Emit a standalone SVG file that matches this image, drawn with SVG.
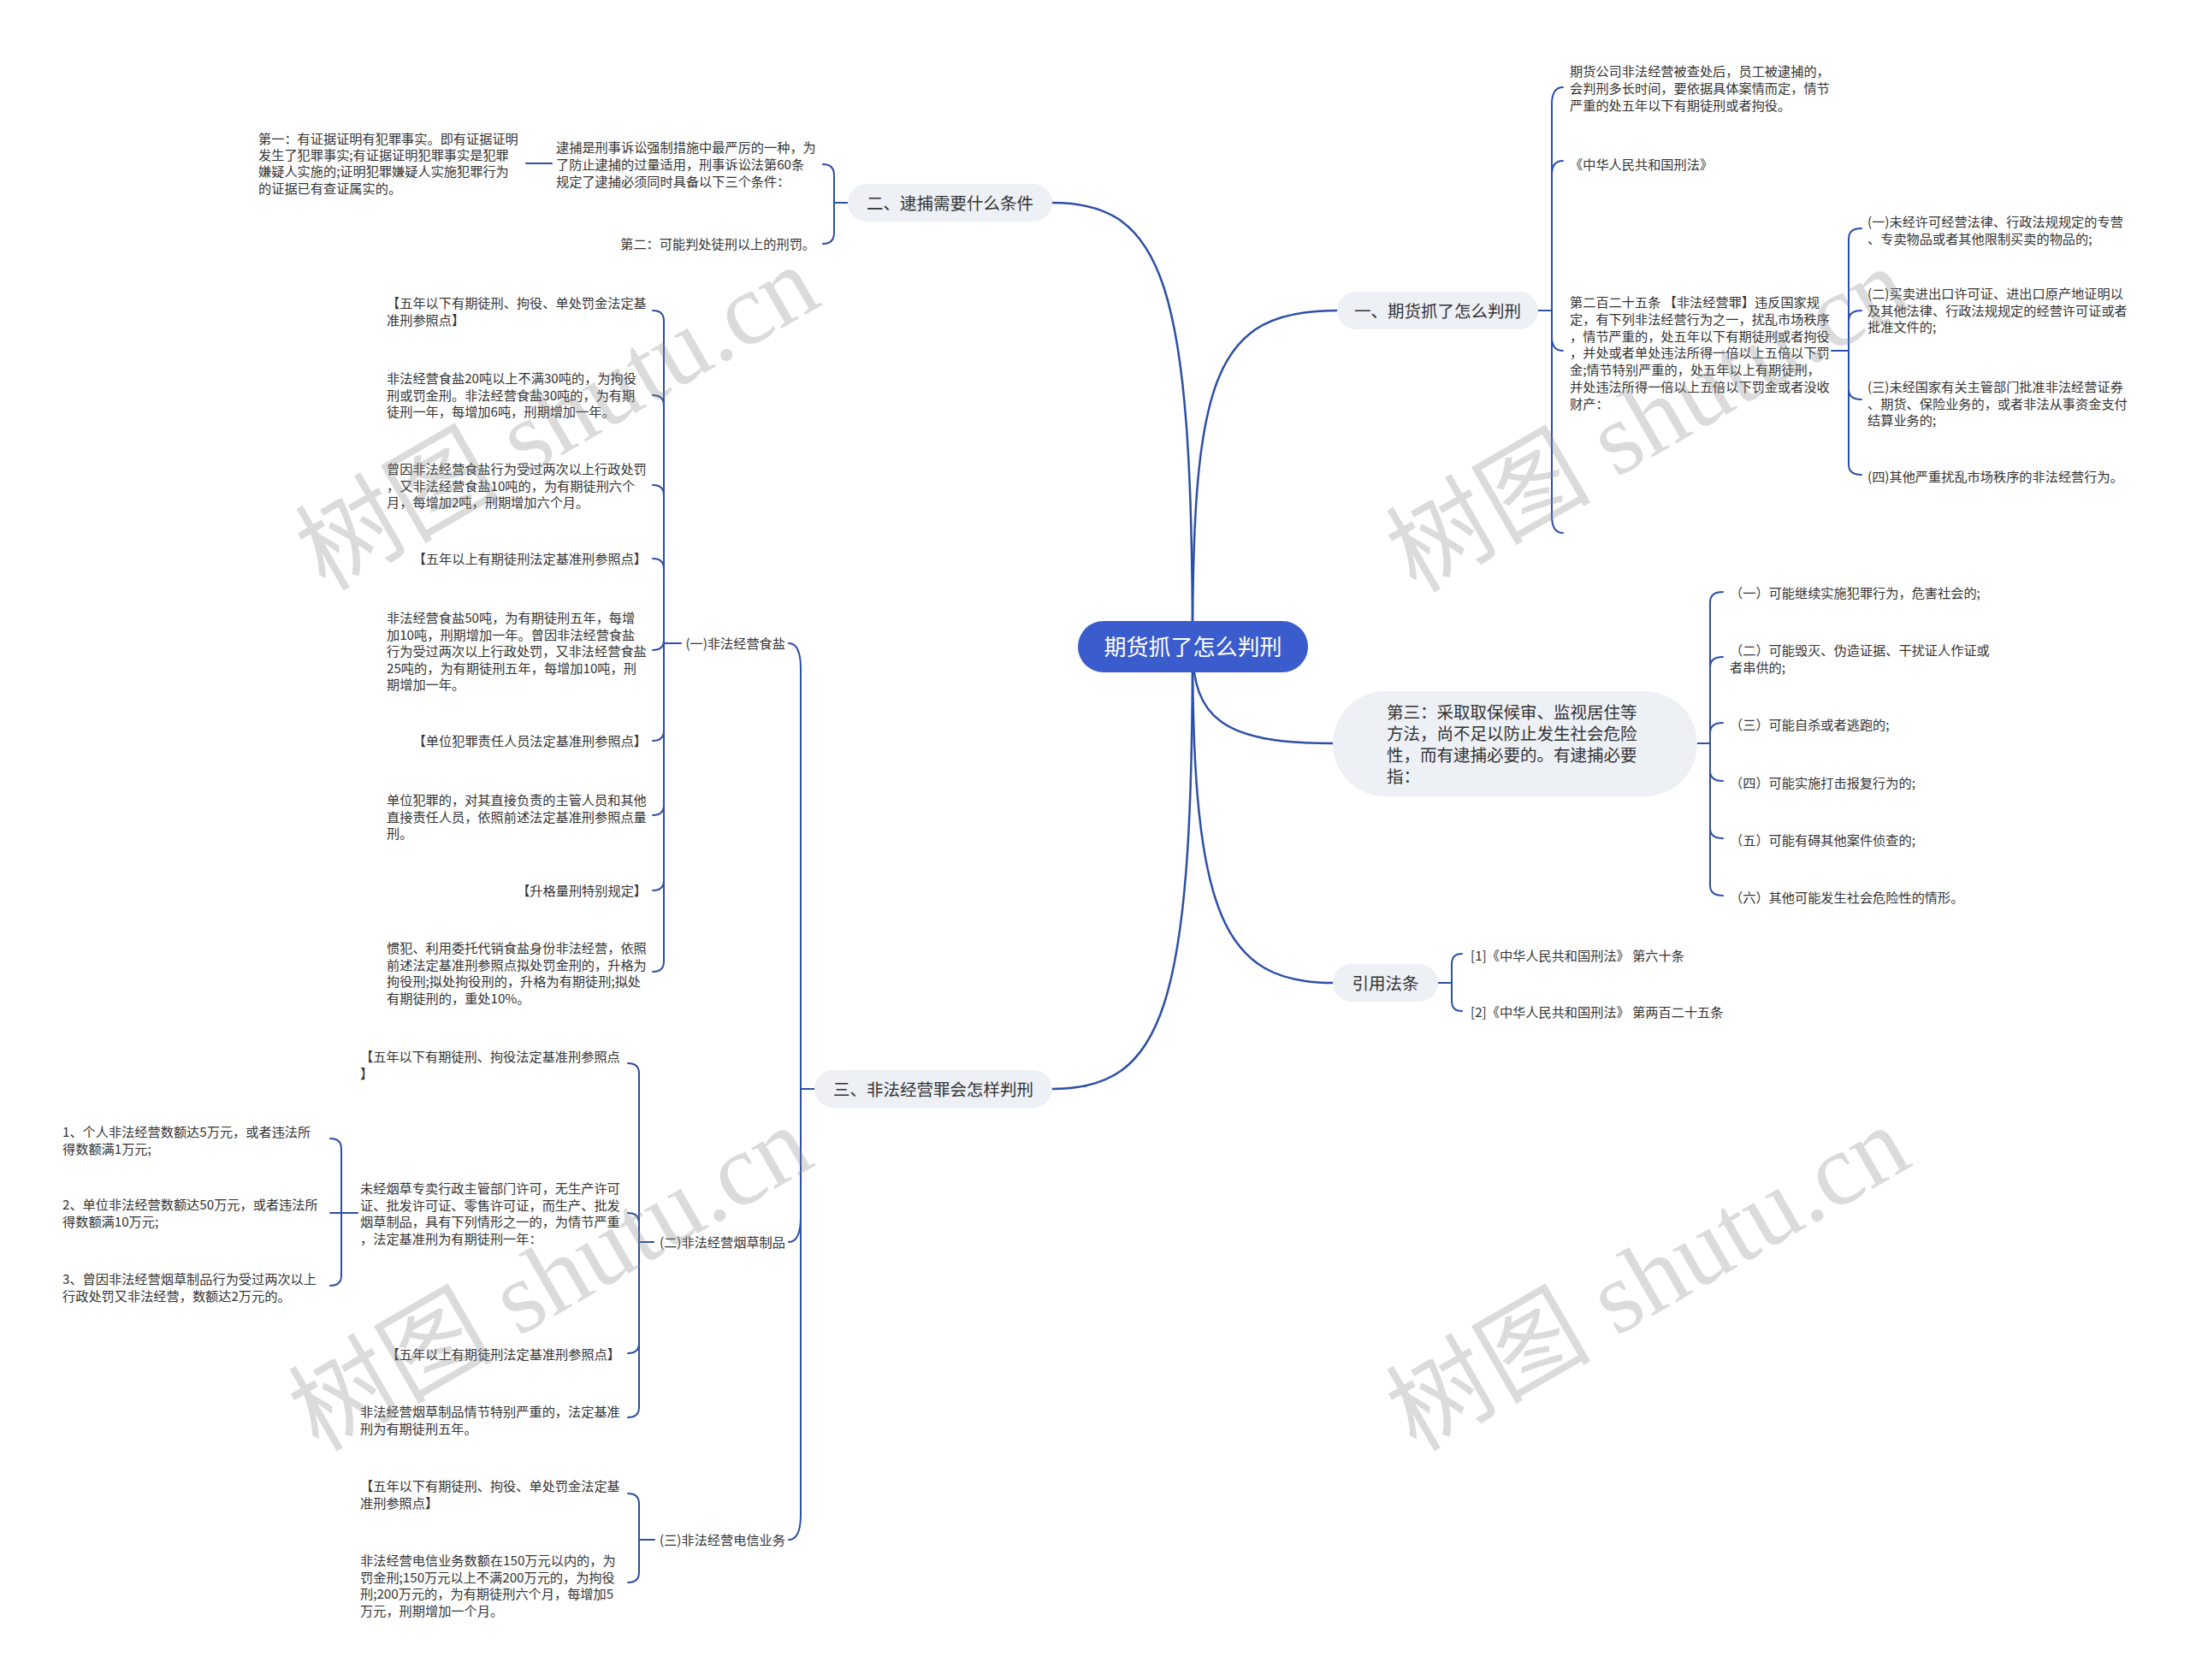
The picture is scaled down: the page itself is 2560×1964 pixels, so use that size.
<svg xmlns="http://www.w3.org/2000/svg" width="2560" height="1964" viewBox="0 0 2560 1964">
<style>
.t{font-family:"Noto Sans CJK SC","Liberation Sans",sans-serif;font-size:15.2px;fill:#333}
.e{text-anchor:end}
.l1{font-family:"Noto Sans CJK SC","Liberation Sans",sans-serif;font-size:19.5px;fill:#333;text-anchor:middle}
.rt{font-family:"Noto Sans CJK SC","Liberation Sans",sans-serif;font-size:26px;fill:#fff;text-anchor:middle}
.n1{fill:#edf0f5}
.ln{fill:none;stroke:#2d4fa6;stroke-width:2;stroke-linecap:round}
.mn{fill:none;stroke:#2d4fa6;stroke-width:2.5;stroke-linecap:round}
.wm{font-family:"Liberation Serif","Noto Sans CJK SC",serif;font-size:120px;fill:#888;fill-opacity:0.3}
</style>
<rect width="2560" height="1964" fill="#fff"/>

<g id="connectors">
<path class="mn" d="M1394 756 C1394 440 1420 363 1563 363"/>
<path class="mn" d="M1394 756 C1394 840 1430 869 1558 869"/>
<path class="mn" d="M1394 756 C1394 1070 1430 1149 1558 1149"/>
<path class="mn" d="M1394 756 C1394 330 1360 237 1230 237"/>
<path class="mn" d="M1394 756 C1394 1180 1360 1273 1230 1273"/>
<path class="ln" d="M991 237 H975 M975 205 V272 M975 205 Q975 192 962 192 M975 272 Q975 285 962 285 M645 191 H615"/>
<path class="ln" d="M952 1273 H936 M936 782 V1770 M936 782 Q936 752 922 752 M936 1422 Q936 1452 922 1452 M936 1770 Q936 1800 922 1800"/>
<path class="ln" d="M796 752 H776 M776 375 V1124 M776 375 Q776 363 763 363 M776 474 Q776 462 763 462 M776 579 Q776 567 763 567 M776 665 Q776 653 763 653 M776 748 Q776 760 763 760 M776 854 Q776 866 763 866 M776 941 Q776 953 763 953 M776 1029 Q776 1041 763 1041 M776 1124 Q776 1136 763 1136"/>
<path class="ln" d="M764 1452 H747 M747 1255 V1645 M747 1255 Q747 1243 734 1243 M747 1430 Q747 1418 734 1418 M747 1570 Q747 1582 734 1582 M747 1645 Q747 1657 734 1657"/>
<path class="ln" d="M418 1418 H386 M399 1343 V1491 M399 1343 Q399 1331 386 1331 M399 1491 Q399 1503 386 1503"/>
<path class="ln" d="M765 1800 H747 M747 1758 V1838 M747 1758 Q747 1746 734 1746 M747 1838 Q747 1850 734 1850"/>
<path class="ln" d="M1798 363 H1814 M1814 122 V603 M1814 122 Q1814 102 1827 102 M1814 204 Q1814 188 1827 188 M1814 394 Q1814 410 1827 410 M1814 603 Q1814 623 1827 623"/>
<path class="ln" d="M2141 410 H2161 M2161 279 V543 M2161 279 Q2161 267 2176 267 M2161 375 Q2161 363 2176 363 M2161 455 Q2161 467 2176 467 M2161 543 Q2161 555 2176 555"/>
<path class="ln" d="M1984 869 H1999 M1999 704 V1035 M1999 704 Q1999 692 2014 692 M1999 780 Q1999 768 2014 768 M1999 857 Q1999 845 2014 845 M1999 901 Q1999 913 2014 913 M1999 968 Q1999 980 2014 980 M1999 1035 Q1999 1047 2014 1047"/>
<path class="ln" d="M1681 1149 H1697 M1697 1127 V1170 M1697 1127 Q1697 1115 1709 1115 M1697 1170 Q1697 1182 1709 1182"/>
</g>

<g id="n-root">
<rect x="1260" y="726" width="269" height="60" rx="30" fill="#3b5ccc"/>
<text class="rt" x="1394.5" y="766">期货抓了怎么判刑</text>
</g>

<g id="n-2">
<rect class="n1" x="991" y="215" width="239" height="44" rx="22"/>
<text class="l1" x="1110.5" y="244.5">二、逮捕需要什么条件</text>
</g>
<g id="n-2-1"><text class="t" x="650" y="178"><tspan x="650">逮捕是刑事诉讼强制措施中最严厉的一种，为</tspan><tspan x="650" dy="19.8">了防止逮捕的过量适用，刑事诉讼法第60条</tspan><tspan x="650" dy="19.8">规定了逮捕必须同时具备以下三个条件：</tspan></text></g>
<g id="n-2-1-1"><text class="t" x="302" y="168"><tspan x="302">第一：有证据证明有犯罪事实。即有证据证明</tspan><tspan x="302" dy="19.2">发生了犯罪事实;有证据证明犯罪事实是犯罪</tspan><tspan x="302" dy="19.2">嫌疑人实施的;证明犯罪嫌疑人实施犯罪行为</tspan><tspan x="302" dy="19.2">的证据已有查证属实的。</tspan></text></g>
<g id="n-2-2"><text class="t e" x="953" y="291">第二：可能判处徒刑以上的刑罚。</text></g>

<g id="n-3">
<rect class="n1" x="952" y="1251" width="278" height="44" rx="22"/>
<text class="l1" x="1091" y="1280.5">三、非法经营罪会怎样判刑</text>
</g>
<g id="n-3-1"><text class="t e" x="918" y="758">(一)非法经营食盐</text></g>
<g id="n-3-1-1"><text class="t" x="452" y="360"><tspan x="452">【五年以下有期徒刑、拘役、单处罚金法定基</tspan><tspan x="452" dy="19.6">准刑参照点】</tspan></text></g>
<g id="n-3-1-2"><text class="t" x="452" y="448"><tspan x="452">非法经营食盐20吨以上不满30吨的，为拘役</tspan><tspan x="452" dy="19.6">刑或罚金刑。非法经营食盐30吨的，为有期</tspan><tspan x="452" dy="19.6">徒刑一年，每增加6吨，刑期增加一年。</tspan></text></g>
<g id="n-3-1-3"><text class="t" x="452" y="554"><tspan x="452">曾因非法经营食盐行为受过两次以上行政处罚</tspan><tspan x="452" dy="19.6">，又非法经营食盐10吨的，为有期徒刑六个</tspan><tspan x="452" dy="19.6">月，每增加2吨，刑期增加六个月。</tspan></text></g>
<g id="n-3-1-4"><text class="t e" x="756" y="659">【五年以上有期徒刑法定基准刑参照点】</text></g>
<g id="n-3-1-5"><text class="t" x="452" y="728"><tspan x="452">非法经营食盐50吨，为有期徒刑五年，每增</tspan><tspan x="452" dy="19.6">加10吨，刑期增加一年。曾因非法经营食盐</tspan><tspan x="452" dy="19.6">行为受过两次以上行政处罚，又非法经营食盐</tspan><tspan x="452" dy="19.6">25吨的，为有期徒刑五年，每增加10吨，刑</tspan><tspan x="452" dy="19.6">期增加一年。</tspan></text></g>
<g id="n-3-1-6"><text class="t e" x="756" y="872">【单位犯罪责任人员法定基准刑参照点】</text></g>
<g id="n-3-1-7"><text class="t" x="452" y="941"><tspan x="452">单位犯罪的，对其直接负责的主管人员和其他</tspan><tspan x="452" dy="19.6">直接责任人员，依照前述法定基准刑参照点量</tspan><tspan x="452" dy="19.6">刑。</tspan></text></g>
<g id="n-3-1-8"><text class="t e" x="756" y="1047">【升格量刑特别规定】</text></g>
<g id="n-3-1-9"><text class="t" x="452" y="1114"><tspan x="452">惯犯、利用委托代销食盐身份非法经营，依照</tspan><tspan x="452" dy="19.6">前述法定基准刑参照点拟处罚金刑的，升格为</tspan><tspan x="452" dy="19.6">拘役刑;拟处拘役刑的，升格为有期徒刑;拟处</tspan><tspan x="452" dy="19.6">有期徒刑的，重处10%。</tspan></text></g>

<g id="n-3-2"><text class="t e" x="918" y="1458">(二)非法经营烟草制品</text></g>
<g id="n-3-2-1"><text class="t" x="421" y="1241"><tspan x="421">【五年以下有期徒刑、拘役法定基准刑参照点</tspan><tspan x="421" dy="19.6">】</tspan></text></g>
<g id="n-3-2-2"><text class="t" x="421" y="1395"><tspan x="421">未经烟草专卖行政主管部门许可，无生产许可</tspan><tspan x="421" dy="19.6">证、批发许可证、零售许可证，而生产、批发</tspan><tspan x="421" dy="19.6">烟草制品，具有下列情形之一的，为情节严重</tspan><tspan x="421" dy="19.6">，法定基准刑为有期徒刑一年：</tspan></text></g>
<g id="n-3-2-2-1"><text class="t" x="73" y="1329"><tspan x="73">1、个人非法经营数额达5万元，或者违法所</tspan><tspan x="73" dy="19.6">得数额满1万元;</tspan></text></g>
<g id="n-3-2-2-2"><text class="t" x="73" y="1414"><tspan x="73">2、单位非法经营数额达50万元，或者违法所</tspan><tspan x="73" dy="19.6">得数额满10万元;</tspan></text></g>
<g id="n-3-2-2-3"><text class="t" x="73" y="1501"><tspan x="73">3、曾因非法经营烟草制品行为受过两次以上</tspan><tspan x="73" dy="19.6">行政处罚又非法经营，数额达2万元的。</tspan></text></g>
<g id="n-3-2-3"><text class="t e" x="725" y="1589">【五年以上有期徒刑法定基准刑参照点】</text></g>
<g id="n-3-2-4"><text class="t" x="421" y="1656"><tspan x="421">非法经营烟草制品情节特别严重的，法定基准</tspan><tspan x="421" dy="19.6">刑为有期徒刑五年。</tspan></text></g>

<g id="n-3-3"><text class="t e" x="918" y="1806">(三)非法经营电信业务</text></g>
<g id="n-3-3-1"><text class="t" x="421" y="1743"><tspan x="421">【五年以下有期徒刑、拘役、单处罚金法定基</tspan><tspan x="421" dy="19.6">准刑参照点】</tspan></text></g>
<g id="n-3-3-2"><text class="t" x="421" y="1830"><tspan x="421">非法经营电信业务数额在150万元以内的，为</tspan><tspan x="421" dy="19.6">罚金刑;150万元以上不满200万元的，为拘役</tspan><tspan x="421" dy="19.6">刑;200万元的，为有期徒刑六个月，每增加5</tspan><tspan x="421" dy="19.6">万元，刑期增加一个月。</tspan></text></g>

<g id="n-1">
<rect class="n1" x="1563" y="341" width="235" height="44" rx="22"/>
<text class="l1" x="1680.5" y="370.5">一、期货抓了怎么判刑</text>
</g>
<g id="n-1-1"><text class="t" x="1835" y="89"><tspan x="1835">期货公司非法经营被查处后，员工被逮捕的，</tspan><tspan x="1835" dy="19.8">会判刑多长时间，要依据具体案情而定，情节</tspan><tspan x="1835" dy="19.8">严重的处五年以下有期徒刑或者拘役。</tspan></text></g>
<g id="n-1-2"><text class="t" x="1835" y="198">《中华人民共和国刑法》</text></g>
<g id="n-1-3"><text class="t" x="1835" y="359"><tspan x="1835">第二百二十五条 【非法经营罪】违反国家规</tspan><tspan x="1835" dy="19.8">定，有下列非法经营行为之一，扰乱市场秩序</tspan><tspan x="1835" dy="19.8">，情节严重的，处五年以下有期徒刑或者拘役</tspan><tspan x="1835" dy="19.8">，并处或者单处违法所得一倍以上五倍以下罚</tspan><tspan x="1835" dy="19.8">金;情节特别严重的，处五年以上有期徒刑，</tspan><tspan x="1835" dy="19.8">并处违法所得一倍以上五倍以下罚金或者没收</tspan><tspan x="1835" dy="19.8">财产：</tspan></text></g>
<g id="n-1-3-1"><text class="t" x="2183" y="265"><tspan x="2183">(一)未经许可经营法律、行政法规规定的专营</tspan><tspan x="2183" dy="19.6">、专卖物品或者其他限制买卖的物品的;</tspan></text></g>
<g id="n-1-3-2"><text class="t" x="2183" y="349"><tspan x="2183">(二)买卖进出口许可证、进出口原产地证明以</tspan><tspan x="2183" dy="19.6">及其他法律、行政法规规定的经营许可证或者</tspan><tspan x="2183" dy="19.6">批准文件的;</tspan></text></g>
<g id="n-1-3-3"><text class="t" x="2183" y="458"><tspan x="2183">(三)未经国家有关主管部门批准非法经营证券</tspan><tspan x="2183" dy="19.6">、期货、保险业务的，或者非法从事资金支付</tspan><tspan x="2183" dy="19.6">结算业务的;</tspan></text></g>
<g id="n-1-3-4"><text class="t" x="2183" y="563">(四)其他严重扰乱市场秩序的非法经营行为。</text></g>

<g id="n-4">
<rect class="n1" x="1558" y="808" width="426" height="123" rx="61.5"/>
<text class="t" style="font-size:19.5px" x="1621" y="839.5"><tspan x="1621">第三：采取取保候审、监视居住等</tspan><tspan x="1621" dy="25.3">方法，尚不足以防止发生社会危险</tspan><tspan x="1621" dy="25.3">性，而有逮捕必要的。有逮捕必要</tspan><tspan x="1621" dy="25.3">指：</tspan></text>
</g>
<g id="n-4-1"><text class="t" x="2022" y="699">（一）可能继续实施犯罪行为，危害社会的;</text></g>
<g id="n-4-2"><text class="t" x="2022" y="766"><tspan x="2022">（二）可能毁灭、伪造证据、干扰证人作证或</tspan><tspan x="2022" dy="19.6">者串供的;</tspan></text></g>
<g id="n-4-3"><text class="t" x="2022" y="853">（三）可能自杀或者逃跑的;</text></g>
<g id="n-4-4"><text class="t" x="2022" y="921">（四）可能实施打击报复行为的;</text></g>
<g id="n-4-5"><text class="t" x="2022" y="988">（五）可能有碍其他案件侦查的;</text></g>
<g id="n-4-6"><text class="t" x="2022" y="1055">（六）其他可能发生社会危险性的情形。</text></g>

<g id="n-5">
<rect class="n1" x="1558" y="1127" width="123" height="44" rx="22"/>
<text class="l1" x="1619.5" y="1156.5">引用法条</text>
</g>
<g id="n-5-1"><text class="t" x="1719" y="1123">[1]《中华人民共和国刑法》 第六十条</text></g>
<g id="n-5-2"><text class="t" x="1719" y="1189">[2]《中华人民共和国刑法》 第两百二十五条</text></g>

<g id="watermarks">
<text class="wm" transform="translate(380 692) rotate(-30)">树图 shutu.cn</text>
<text class="wm" transform="translate(1655 694) rotate(-30)">树图 shutu.cn</text>
<text class="wm" transform="translate(372 1698) rotate(-30)">树图 shutu.cn</text>
<text class="wm" transform="translate(1655 1698) rotate(-30)">树图 shutu.cn</text>
</g>
</svg>
